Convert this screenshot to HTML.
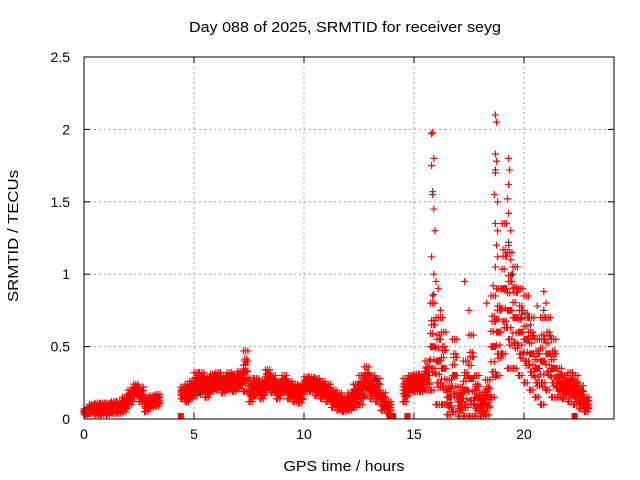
<!DOCTYPE html>
<html><head><meta charset="utf-8"><style>
body{margin:0;background:#fff;}
svg{display:block;font-family:"Liberation Sans",sans-serif;}
</style></head><body>
<svg id="chart" width="640" height="480" viewBox="0 0 640 480">
<text x="345" y="32" font-size="15" text-anchor="middle" textLength="312" lengthAdjust="spacingAndGlyphs">Day 088 of 2025, SRMTID for receiver seyg</text>
<text x="344" y="471" font-size="15" text-anchor="middle" textLength="121" lengthAdjust="spacingAndGlyphs">GPS time / hours</text>
<text x="18" y="236" font-size="15" text-anchor="middle" textLength="132" lengthAdjust="spacingAndGlyphs" transform="rotate(-90 18 236)">SRMTID / TECUs</text>
<g id="grid"></g><g id="marks"></g><g id="axes"></g>
</svg>
<script>
const xTicks=[0,5,10,15,20];
const yTicks=[0,0.5,1,1.5,2,2.5];
const yTickLabels=["0","0.5","1","1.5","2","2.5"];
const times=[0,0.25,0.5,0.75,1,1.25,1.5,1.75,2,2.25,2.5,2.75,3,3.25,4.4,4.6,4.8,5,5.25,5.5,5.75,6,6.25,6.5,6.75,7,7.25,7.5,7.75,8,8.25,8.5,8.75,9,9.25,9.5,9.75,10,10.25,10.5,10.75,11,11.25,11.5,11.75,12,12.25,12.5,12.75,13,13.25,13.5,13.75,14.5,14.75,15,15.25,15.5,15.75,16,16.25,16.5,16.75,17,17.25,17.5,17.75,18,18.25,18.5,18.75,19,19.25,19.5,19.75,20,20.25,20.5,20.75,21,21.25,21.5,21.75,22,22.25,22.5,22.75];
const centers=[0.05,0.07,0.07,0.07,0.07,0.08,0.08,0.1,0.15,0.2,0.17,0.1,0.12,0.13,0.18,0.18,0.2,0.24,0.25,0.22,0.25,0.26,0.24,0.26,0.25,0.27,0.33,0.2,0.22,0.2,0.27,0.24,0.2,0.24,0.2,0.18,0.17,0.24,0.24,0.22,0.2,0.18,0.14,0.12,0.1,0.12,0.16,0.2,0.26,0.22,0.2,0.12,0.08,0.2,0.24,0.25,0.25,0.3,0.5,0.4,0.35,0.15,0.3,0.12,0.2,0.28,0.15,0.1,0.15,0.5,0.6,0.9,0.75,0.7,0.6,0.55,0.45,0.35,0.4,0.45,0.35,0.25,0.22,0.22,0.2,0.15,0.1];
const spreads=[0.02,0.03,0.04,0.04,0.04,0.04,0.04,0.05,0.05,0.04,0.05,0.05,0.04,0.04,0.04,0.06,0.06,0.08,0.07,0.07,0.06,0.06,0.06,0.06,0.06,0.06,0.14,0.08,0.06,0.06,0.07,0.06,0.06,0.06,0.06,0.06,0.06,0.05,0.05,0.06,0.06,0.06,0.06,0.06,0.05,0.06,0.08,0.1,0.1,0.08,0.08,0.06,0.04,0.08,0.06,0.06,0.06,0.1,0.3,0.3,0.25,0.12,0.25,0.1,0.2,0.3,0.15,0.08,0.12,0.35,0.3,0.45,0.4,0.35,0.3,0.3,0.25,0.2,0.3,0.25,0.2,0.1,0.08,0.1,0.1,0.08,0.05];
const spikeTimes=[15.8,15.85,15.9,15.8,15.85,15.9,15.95,15.8,15.9,16.0,15.85,16.1,16.2,16.3,17.3,18.7,18.75,18.7,18.75,18.7,18.65,18.8,18.7,18.8,18.75,18.8,18.7,18.6,19.3,19.35,19.3,19.25,19.3,19.2,19.4,19.3,19.4,19.5,19.5,18.3,17.5,20.0,20.9,21.0,20.6,19.9,20.2];
const spikeValues=[1.97,1.98,1.8,1.75,1.55,1.45,1.3,1.12,1.0,0.95,0.85,0.9,0.75,0.7,0.95,2.1,2.05,1.83,1.78,1.7,1.55,1.5,1.35,1.3,1.2,1.12,1.05,0.92,1.8,1.72,1.62,1.52,1.42,1.35,1.3,1.2,1.1,1.0,0.9,0.8,0.75,0.85,0.88,0.8,0.78,0.7,0.6];
const darkTimes=[15.85,15.9,18.7,19.3,19.45,19.9,20.3,20.9,13.3,5.3];
const darkValues=[1.57,0.86,1.72,1.22,1.0,0.72,0.65,0.75,0.27,0.17];
const zeroTimes=[4.4,13.9,14.05,14.7,22.3];

const L=84,R=614,T=57,B=419,XMAX=(R-L)/22;
const X=t=>L+t/XMAX*(R-L);
const Y=v=>B-v/2.5*(B-T);
const NS="http://www.w3.org/2000/svg";
function mk(tag,attrs,parent){const e=document.createElementNS(NS,tag);for(const k in attrs)e.setAttribute(k,attrs[k]);parent.appendChild(e);return e;}
const grid=document.getElementById('grid'),marks=document.getElementById('marks'),axes=document.getElementById('axes');
xTicks.forEach(t=>{
 if(t>0){const g=mk('line',{x1:X(t),x2:X(t),y1:T,y2:B,stroke:'#a0a0a0','stroke-dasharray':'2,3'},grid);
 
 }
 mk('line',{x1:X(t),x2:X(t),y1:B,y2:B-6,stroke:'#000'},axes);
 mk('line',{x1:X(t),x2:X(t),y1:T,y2:T+6,stroke:'#000'},axes);
 const tx=mk('text',{x:X(t),y:B+20,'font-size':14,'text-anchor':'middle'},axes);tx.textContent=t;
 
 
});
yTicks.forEach((v,i)=>{
 if(v>0&&v<2.5){const g=mk('line',{x1:L,x2:R,y1:Y(v),y2:Y(v),stroke:'#a0a0a0','stroke-dasharray':'2,3'},grid);
 
 }
 mk('line',{x1:L,x2:L+6,y1:Y(v),y2:Y(v),stroke:'#000'},axes);
 mk('line',{x1:R,x2:R-6,y1:Y(v),y2:Y(v),stroke:'#000'},axes);
 const tx=mk('text',{x:L-14,y:Y(v)+5,'font-size':14,'text-anchor':'end'},axes);tx.textContent=yTickLabels[i];
 
 
});
const frame=mk('rect',{x:L,y:T,width:R-L,height:B-T,fill:'none',stroke:'#000'},axes);


function plus(t,v,col,name){
 const x=X(t),y=Y(v);
 const p=mk('path',{d:`M${x-3.5},${y}h7M${x},${y-3.5}v7`,stroke:col,'stroke-width':1.2,fill:'none'},marks);
 
 
}
const offs=[-1,-0.5,0,0.5,1];
times.forEach((t,i)=>{
 for(let s=0;s<5;s++){
  const tt=t+s*0.05;
  for(let k=0;k<offs.length;k++){
   plus(tt,Math.max(0.02,centers[i]+offs[(k+s)%5]*spreads[i]*(k%2?0.6:1)),'#ff0000','srmtid-point');
  }
 }
});
spikeTimes.forEach((t,i)=>plus(t,spikeValues[i],'#ff0000','srmtid-spike-point'));
darkTimes.forEach((t,i)=>plus(t,darkValues[i],'#404040','srmtid-dark-point'));
zeroTimes.forEach(t=>{
 const r=mk('rect',{x:X(t)-3,y:B-6,width:6,height:6,fill:'#ff0000'},marks);
 
 
});
</script>
</body></html>
